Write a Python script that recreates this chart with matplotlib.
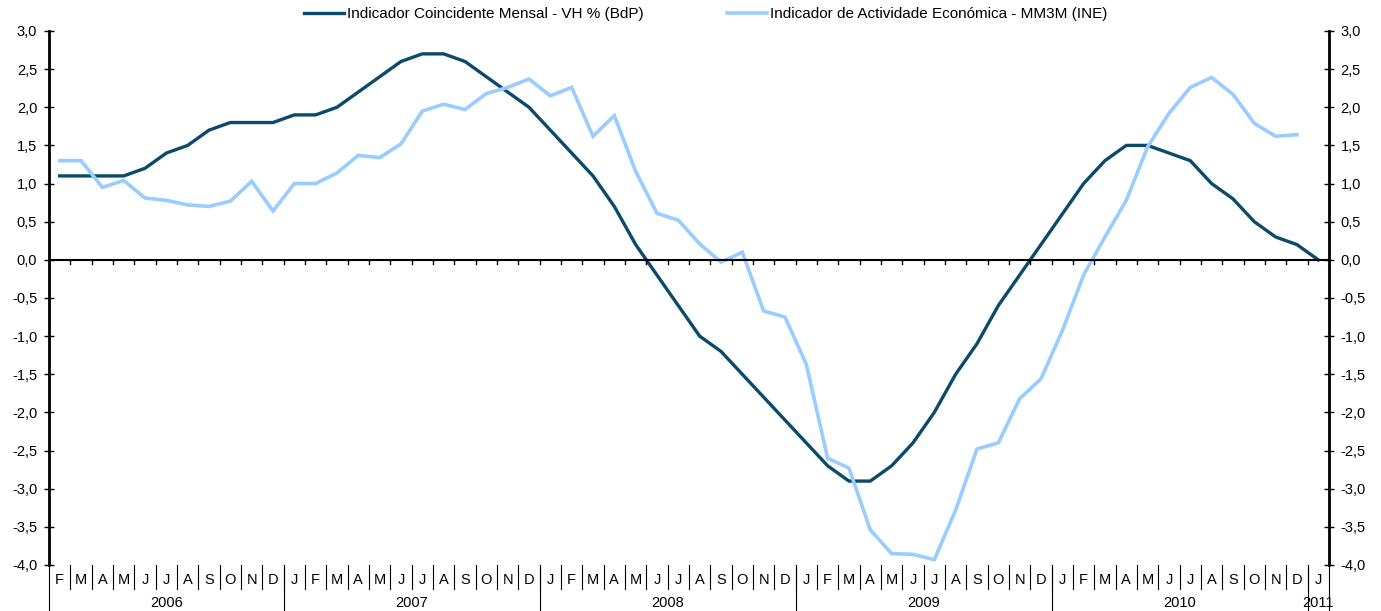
import numpy as np
import matplotlib.pyplot as plt
from matplotlib.ticker import FuncFormatter, MultipleLocator

plt.rcParams['font.family'] = ['Liberation Sans', 'DejaVu Sans']
plt.rcParams['font.size'] = 10

# Monthly data, Feb 2006 .. Jan 2011
month_labels = (['F', 'M', 'A', 'M', 'J', 'J', 'A', 'S', 'O', 'N', 'D']
                + ['J', 'F', 'M', 'A', 'M', 'J', 'J', 'A', 'S', 'O', 'N', 'D'] * 4
                + ['J'])
years = ['2006', '2007', '2008', '2009', '2010', '2011']
months_per_year = [11, 12, 12, 12, 12, 1]

bdp = [1.1, 1.1, 1.1, 1.1, 1.2, 1.4, 1.5, 1.7, 1.8, 1.8, 1.8,
       1.9, 1.9, 2.0, 2.2, 2.4, 2.6, 2.7, 2.7, 2.6, 2.4, 2.2, 2.0,
       1.7, 1.4, 1.1, 0.7, 0.2, -0.2, -0.6, -1.0, -1.2, -1.5, -1.8, -2.1,
       -2.4, -2.7, -2.9, -2.9, -2.7, -2.4, -2.0, -1.5, -1.1, -0.6, -0.2, 0.2,
       0.6, 1.0, 1.3, 1.5, 1.5, 1.4, 1.3, 1.0, 0.8, 0.5, 0.3, 0.2,
       0.0]
ine = [1.30, 1.30, 0.95, 1.04, 0.81, 0.78, 0.72, 0.70, 0.77, 1.03, 0.64,
       1.00, 1.00, 1.14, 1.37, 1.34, 1.52, 1.95, 2.04, 1.97, 2.18, 2.26, 2.37,
       2.15, 2.26, 1.62, 1.89, 1.16, 0.61, 0.52, 0.21, -0.03, 0.10, -0.67, -0.75,
       -1.37, -2.60, -2.73, -3.54, -3.85, -3.86, -3.93, -3.28, -2.48, -2.40, -1.82, -1.56,
       -0.93, -0.20, 0.30, 0.78, 1.48, 1.92, 2.26, 2.39, 2.17, 1.79, 1.62, 1.64,
       np.nan]

name_bdp = 'Indicador Coincidente Mensal - VH % (BdP)'
name_ine = 'Indicador de Actividade Económica - MM3M (INE)'

x = np.arange(len(month_labels))

fig = plt.figure(figsize=(13.81, 6.11), dpi=100)
ax = fig.add_axes([0.0355, 0.0753, 0.9268, 0.874])

ax.plot(x, bdp, color='#0B4A6B', lw=2.4, label=name_bdp, solid_joinstyle='miter')
ax.plot(x, ine, color='#99CCFF', lw=2.6, label=name_ine, solid_joinstyle='miter')

ax.set_xlim(-0.5, len(x) - 0.5)
ax.set_ylim(-4, 3)
ax.yaxis.set_major_locator(MultipleLocator(0.5))
ax.yaxis.set_major_formatter(FuncFormatter(lambda v, p: f'{v:.1f}'.replace('.', ',')))
ax.tick_params(axis='y', direction='inout', length=7, width=1, labelsize=10.5,
               left=True, right=True, labelleft=True, labelright=True, pad=5)
ax.set_xticks([])

for side in ['top', 'bottom']:
    ax.spines[side].set_visible(False)
for side in ['left', 'right']:
    ax.spines[side].set_linewidth(2)

# zero line with small category ticks
ax.axhline(0, color='black', lw=1.5)
for k in range(1, len(x)):
    ax.plot([k - 0.5, k - 0.5], [0, -0.06], color='black', lw=1)

# month/year category labels below the plot
trans = ax.get_xaxis_transform()
for i, m in enumerate(month_labels):
    ax.text(i, -0.028, m, transform=trans, ha='center', va='center', fontsize=10.5)
for k in range(1, len(x)):
    ax.plot([k - 0.5, k - 0.5], [0, -0.045], transform=trans, color='black',
            lw=0.8, clip_on=False)

start = 0
bounds = [-0.5]
for yr, n in zip(years, months_per_year):
    ax.text(start + (n - 1) / 2, -0.071, yr, transform=trans, ha='center',
            va='center', fontsize=10.5)
    start += n
    bounds.append(start - 0.5)
for b in bounds:
    ax.plot([b, b], [0, -0.085], transform=trans, color='black', lw=0.8, clip_on=False)

fig.legend(loc='center', bbox_to_anchor=(0.511, 0.977), ncol=2, frameon=False,
           handlelength=2.6, handletextpad=0.2, columnspacing=5.5, fontsize=11)

fig.savefig('out.png', dpi=100, facecolor='white')
